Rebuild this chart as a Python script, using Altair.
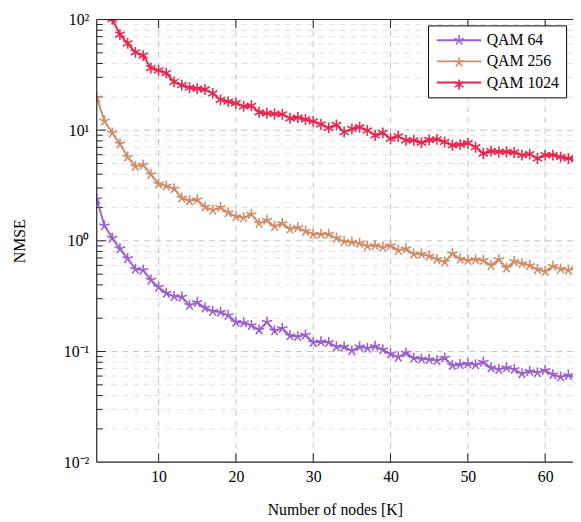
import altair as alt
import pandas as pd

# ---------------- data ----------------
K = list(range(2, 65))
qam64 = [2.37, 1.37, 1.06, 0.849, 0.692, 0.555, 0.544, 0.443, 0.381, 0.337,
         0.315, 0.311, 0.262, 0.278, 0.248, 0.231, 0.227, 0.212, 0.1845, 0.182,
         0.1725, 0.157, 0.1845, 0.154, 0.162, 0.139, 0.137, 0.141, 0.121, 0.1225,
         0.121, 0.1106, 0.1106, 0.102, 0.1106, 0.107, 0.1115, 0.104, 0.0953, 0.089,
         0.0972, 0.0871, 0.0859, 0.0847, 0.083, 0.0877, 0.0749, 0.0764, 0.0775, 0.076,
         0.0803, 0.0714, 0.069, 0.0714, 0.069, 0.0632, 0.0662, 0.0645, 0.0676, 0.0619,
         0.059, 0.061, 0.058]
qam256 = [19.7, 12.1, 9.43, 7.52, 5.73, 4.7, 4.85, 3.99, 3.27, 3.13,
          2.96, 2.44, 2.3, 2.35, 2.03, 1.89, 2.0, 1.8, 1.66, 1.62,
          1.74, 1.44, 1.54, 1.35, 1.44, 1.28, 1.32, 1.22, 1.15, 1.15,
          1.15, 1.06, 0.986, 0.972, 0.953, 0.896, 0.908, 0.877, 0.908, 0.82,
          0.849, 0.76, 0.76, 0.73, 0.68, 0.645, 0.766, 0.686, 0.668, 0.677,
          0.668, 0.6, 0.677, 0.57, 0.65, 0.624, 0.6, 0.552, 0.53, 0.591,
          0.558, 0.544, 0.56]
qam1024 = [230, 150, 100.5, 73.1, 60.8, 50.5, 47.2, 36.4, 34.7, 32.8,
           27.3, 25.5, 24.2, 23.7, 23.3, 21.5, 18.8, 18.1, 17.5, 16.4,
           16.6, 14.5, 14.2, 14.0, 13.9, 12.8, 13.0, 12.5, 12.0, 11.3,
           10.5, 11.15, 9.6, 10.27, 10.63, 9.94, 8.97, 9.46, 8.37, 8.79,
           8.1, 8.1, 7.71, 8.15, 8.26, 7.82, 7.31, 7.4, 7.62, 7.01,
           6.15, 6.46, 6.37, 6.37, 6.28, 5.95, 6.07, 5.55, 5.95, 5.95,
           5.71, 5.55, 5.46]
series_names = ["QAM 64", "QAM 256", "QAM 1024"]
series_colors = ["#9b5fd0", "#d08b68", "#e8264e"]
x_ticks = [10, 20, 30, 40, 50, 60]
y_ticks = [0.01, 0.1, 1, 10, 100]
y_tick_labels = ["10⁻²", "10⁻¹", "10⁰", "10¹", "10²"]
y_inner_major = [0.1, 1, 10]
y_minor = [m * 10.0 ** e for e in range(-2, 2) for m in range(2, 10)]

# ---------------- styling ----------------
FONT = "Liberation Serif"
W, H = 483, 449
STAR = "M0,0L0,-1M0,0L0.951,-0.309M0,0L0.588,0.809M0,0L-0.588,0.809M0,0L-0.951,-0.309"
ASTER = "M0,-1L0,1M-0.866,-0.5L0.866,0.5M-0.866,0.5L0.866,-0.5"
AXC = "#222222"

df = pd.DataFrame({
    "K": K * 3,
    "NMSE": qam64 + qam256 + qam1024,
    "series": [series_names[0]] * len(K) + [series_names[1]] * len(K) + [series_names[2]] * len(K),
})

label_expr = " : ".join(
    f"abs(log(datum.value)/LN10 - ({i - 2})) < 0.01 ? '{lab}'" for i, lab in enumerate(y_tick_labels)
) + " : ''"

xscale = alt.Scale(domain=[2, 63.6], nice=False, zero=False)
yscale = alt.Scale(type="log", domain=[0.01, 100], nice=False)
xaxis = alt.Axis(values=x_ticks, title="Number of nodes [K]", grid=False, ticks=False, domain=False,
                 labelFont=FONT, labelFontSize=16, labelColor="black", labelPadding=7,
                 titleFont=FONT, titleFontSize=16, titleFontWeight="normal", titleColor="black",
                 titleY=48, titleBaseline="middle")
yaxis = alt.Axis(values=y_ticks, labelExpr=label_expr, title="NMSE", grid=False, ticks=False, domain=False,
                 labelFont=FONT, labelFontSize=16, labelColor="black", labelPadding=8,
                 titleFont=FONT, titleFontSize=16, titleFontWeight="normal", titleColor="black",
                 titleAngle=270, titleX=-78, titleY=H / 2, titleBaseline="middle", titleAlign="center")


def X(f):
    return alt.X(f, type="quantitative", scale=xscale, axis=xaxis)


def Y(f):
    return alt.Y(f, type="quantitative", scale=yscale, axis=yaxis)


color_scale = alt.Scale(domain=series_names, range=series_colors)
leg_common = dict(orient="none", legendX=336, legendY=6, padding=7, direction="vertical",
                  labelFont=FONT, labelFontSize=16, labelColor="black", symbolSize=110,
                  symbolOffset=16.5, labelOffset=20, rowPadding=5.5, title=None)
legA = alt.Legend(symbolType="M-4.3,0L4.3,0", symbolStrokeWidth=2, fillColor="white", strokeColor="black",
                  zindex=1, labelExpr="datum.label + '\u2002'", **leg_common)
legB = alt.Legend(labelExpr="''", symbolStrokeWidth=1.6, zindex=2, **leg_common)

minor_df = pd.DataFrame({"v": y_minor})
major_df = pd.DataFrame({"v": y_inner_major})
xt_df = pd.DataFrame({"k": x_ticks})
one = pd.DataFrame({"a": [0]})

grid_minor = alt.Chart(minor_df).mark_rule(color="#e2e2e2", strokeDash=[6, 5], strokeWidth=1).encode(y=Y("v"))
grid_major = alt.Chart(major_df).mark_rule(color="#c4c4c4", strokeDash=[6, 5], strokeWidth=1).encode(y=Y("v"))
grid_x = alt.Chart(xt_df).mark_rule(color="#c4c4c4", strokeDash=[6, 5], strokeWidth=1).encode(x=X("k"))

tick_minor = alt.Chart(minor_df).mark_rule(color=AXC, strokeWidth=1).encode(
    y=Y("v"), x=alt.value(0), x2=alt.value(6))
tick_major = alt.Chart(major_df).mark_rule(color=AXC, strokeWidth=1).encode(
    y=Y("v"), x=alt.value(0), x2=alt.value(9))
tick_xb = alt.Chart(xt_df).mark_rule(color=AXC, strokeWidth=1).encode(
    x=X("k"), y=alt.value(H), y2=alt.value(H - 9))
tick_xt = alt.Chart(xt_df).mark_rule(color=AXC, strokeWidth=1).encode(
    x=X("k"), y=alt.value(0), y2=alt.value(9))

border_l = alt.Chart(one).mark_rule(color=AXC, strokeWidth=1.2).encode(
    x=alt.value(0), y=alt.value(0), y2=alt.value(H))
border_t = alt.Chart(one).mark_rule(color=AXC, strokeWidth=1.2).encode(
    y=alt.value(0), x=alt.value(0), x2=alt.value(W))
border_b = alt.Chart(one).mark_rule(color=AXC, strokeWidth=1.2).encode(
    y=alt.value(H), x=alt.value(0), x2=alt.value(W))

lines = alt.Chart(df).mark_line(strokeWidth=2, clip=True).encode(
    x=X("K"), y=Y("NMSE"),
    color=alt.Color("series:N", scale=color_scale, legend=legA),
    detail="series:N",
)
points = alt.Chart(df).mark_point(filled=False, size=121, strokeWidth=1.6, opacity=1, clip=True).encode(
    x=X("K"), y=Y("NMSE"),
    color=alt.Color("series:N", scale=color_scale, legend=legB),
    shape=alt.Shape("series:N", scale=alt.Scale(domain=series_names, range=[STAR, STAR, ASTER]), legend=legB),
)

chart = alt.layer(
    grid_minor, grid_major, grid_x, tick_minor, tick_major, tick_xb, tick_xt,
    lines, points, border_l, border_t, border_b,
).resolve_legend(color="independent", shape="independent").properties(
    width=W, height=H,
    padding={"left": 90, "top": 8, "right": 0, "bottom": 56},
    autosize=alt.AutoSizeParams(type="none"),
    background="white",
).configure_view(stroke=None)

chart.save("out.html", embed_options={"renderer": "svg", "actions": False})
